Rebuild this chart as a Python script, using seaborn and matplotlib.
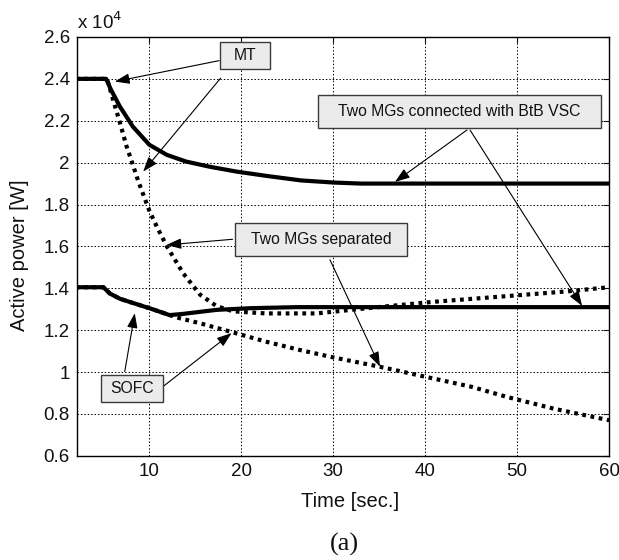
import matplotlib
matplotlib.use("Agg")
import matplotlib.pyplot as plt
from matplotlib.path import Path
import pandas as pd
import seaborn as sns
from matplotlib.ticker import FuncFormatter

# Micro-turbine (MT) output, MGs linked through the back-to-back VSC
t_mt_conn = [2, 5.3, 5.8, 6.8, 8.2, 10.0, 11.9, 14.0, 16.6, 19.5, 23, 26.5, 30, 33, 40, 50, 60]
p_mt_conn = [24000, 24000, 23500, 22670, 21720, 20850, 20370, 20050, 19800, 19570, 19350,
             19150, 19050, 19000, 19000, 19000, 19000]

# MT output, MGs separated
t_mt_sep = [2, 5.4, 6.05, 6.8, 7.5, 8.2, 8.8, 9.4, 10.0, 10.8, 11.9, 13.7, 15.5, 17.3, 19.1,
            22.7, 28.2, 33.7, 40.8, 48.1, 55.4, 60]
p_mt_sep = [24000, 24000, 23000, 21900, 20800, 19900, 19100, 18400, 17700, 16950, 16000,
            14700, 13700, 13150, 12900, 12800, 12800, 13050, 13350, 13600, 13850, 14050]

# Solid-oxide fuel cell (SOFC) output, MGs linked
t_sofc_conn = [2, 5.0, 5.7, 6.8, 8.2, 10.0, 12.2, 13.7, 17.3, 21, 26, 30, 40, 50, 60]
p_sofc_conn = [14050, 14050, 13750, 13500, 13300, 13050, 12720, 12780, 12970, 13050, 13100,
               13100, 13100, 13100, 13100]

# SOFC output, MGs separated
t_sofc_sep = [2, 5.0, 5.7, 6.8, 8.2, 10.0, 12.2, 13.3, 15.5, 18.8, 22.7, 26.4, 30, 35.1, 40.8,
              45, 49, 54, 60]
p_sofc_sep = [14050, 14050, 13750, 13500, 13300, 13050, 12720, 12570, 12330, 11930, 11450,
              11050, 10700, 10250, 9700, 9300, 8800, 8250, 7700]

x_ticks = [10, 20, 30, 40, 50, 60]
y_ticks = [6000, 8000, 10000, 12000, 14000, 16000, 18000, 20000, 22000, 24000, 26000]

sns.set_style("white")
plt.rcParams["font.family"] = ["Liberation Sans", "DejaVu Sans"]

fig = plt.figure(figsize=(6.19, 5.6), dpi=100)
ax = fig.add_axes([0.124, 0.186, 0.86, 0.748])

curves = [
    (t_mt_conn, p_mt_conn, "-"),
    (t_sofc_conn, p_sofc_conn, "-"),
    (t_mt_sep, p_mt_sep, (0, (0.9, 1.1))),
    (t_sofc_sep, p_sofc_sep, (0, (0.9, 1.1))),
]
for t, p, ls in curves:
    df = pd.DataFrame({"t": t, "p": p})
    sns.lineplot(data=df, x="t", y="p", ax=ax, color="black", linestyle=ls,
                 linewidth=3.0, estimator=None, sort=False)

ax.set_xlim(2.1, 60)
ax.set_ylim(6000, 26000)
ax.set_xticks(x_ticks)
ax.set_yticks(y_ticks)
ax.yaxis.set_major_formatter(FuncFormatter(lambda v, _: f"{v / 1e4:g}"))
ax.tick_params(direction="in", top=True, right=True, length=4, width=0.8,
               labelsize=13.5, colors="#111111", pad=5)
ax.grid(True, color="black", linestyle=(0, (1.5, 2)), linewidth=0.7)
for s in ax.spines.values():
    s.set_color("black")
    s.set_linewidth(1.0)
ax.set_xlabel("Time [sec.]", fontsize=14.5, color="#111111")
ax.set_ylabel("Active power [W]", fontsize=14.5, color="#111111")
ax.xaxis.set_label_coords(0.513, -0.11)
ax.xaxis.label.set_va("center")
ax.yaxis.set_label_coords(-0.107, 0.48)
ax.yaxis.label.set_va("center")

fig.text(0.125, 0.948, r"x 10$^{4}$", fontsize=13.5, ha="left", va="baseline", color="#111111")
fig.text(0.557, 0.027, "(a)", fontsize=19, ha="center", va="center",
         family=["Liberation Serif", "DejaVu Serif"], color="#111111")


def padded_box(padx, pady):
    """Square text box with separate horizontal and vertical padding (in font-size units)."""
    def box(x0, y0, width, height, mutation_size):
        px, py = padx * mutation_size, pady * mutation_size
        xa, ya = x0 - px, y0 - py
        xb, yb = x0 + width + px, y0 + height + py
        return Path([(xa, ya), (xb, ya), (xb, yb), (xa, yb), (xa, ya)], closed=True)
    return box


arrow = dict(arrowstyle="-|>,head_length=0.9,head_width=0.32", color="black",
             linewidth=0.8, shrinkA=0, shrinkB=0)

labels = [
    ("MT", (20.4, 25120), (0.86, 0.38),
     [((17.59, 24870), (6.24, 23870)), ((17.74, 24030), (9.32, 19570))]),
    ("Two MGs connected with BtB VSC", (43.7, 22420), (1.3, 0.57),
     [((44.55, 21560), (36.71, 19080)), ((44.87, 21560), (57.06, 13160))]),
    ("Two MGs separated", (28.66, 16335), (1.0, 0.56),
     [((19.05, 16340), (11.86, 16070)), ((29.64, 15360), (35.08, 10260))]),
    ("SOFC", (8.09, 9214), (0.6, 0.36),
     [((7.32, 10025), (8.41, 12810)), ((11.57, 9340), (18.94, 11860))]),
]
for txt, pos, (padx, pady), arrows in labels:
    ax.text(pos[0], pos[1], txt, fontsize=11.3, ha="center", va="center", color="#111111",
            bbox=dict(boxstyle=padded_box(padx, pady), facecolor="#ebebeb",
                      edgecolor="#3a3a3a", linewidth=1.0), zorder=5)
    for start, tip in arrows:
        ax.annotate("", xy=tip, xytext=start, arrowprops=arrow, zorder=4)

fig.savefig("out.png", dpi=100)
